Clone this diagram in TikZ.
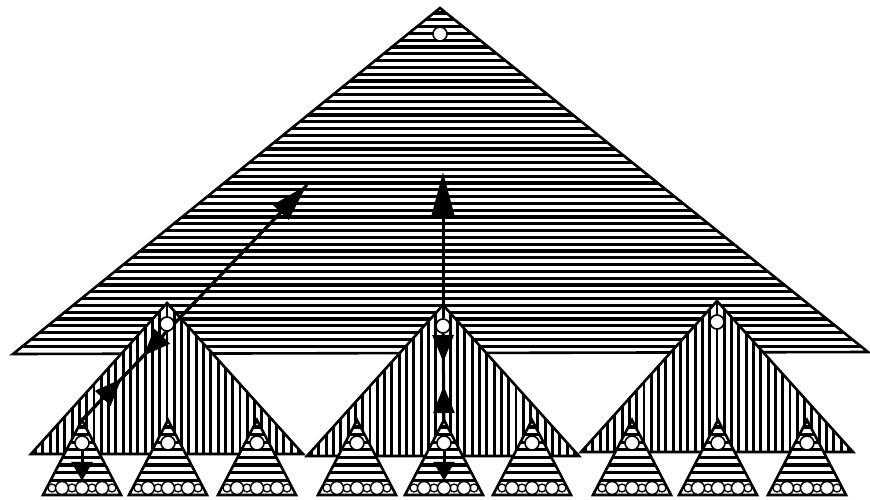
\documentclass[tikz,border=0pt]{standalone}
\usepackage{tikz}
\usetikzlibrary{arrows.meta,decorations.markings}

\begin{document}
\begin{tikzpicture}[x=1pt, y=-1pt,
    outline/.style={line width=2.6pt, line join=miter},
    hhatch/.style={line width=3.2pt},
    vhatch/.style={line width=2.9pt},
    dot/.style={circle, draw, fill=white, line width=1.6pt, minimum size=14pt, inner sep=0pt},
    leaf/.style={circle, draw, fill=white, line width=1.5pt, minimum size=13pt, inner sep=0pt},
    twig/.style={circle, draw, fill=white, line width=1.3pt, minimum size=8pt, inner sep=0pt},
    link/.style={line width=3pt},
    meet/.style 2 args={postaction={decorate}, decoration={markings,
        mark=at position #1 with {\arrow{Triangle[length=27pt,width=21pt]}},
        mark=at position #2 with {\arrowreversed{Triangle[length=27pt,width=21pt]}}}},
]
\useasboundingbox (0,0) rectangle (870,499);

% Top tree
\begin{scope}
\clip (440,8) -- (868,352) -- (13,354) -- cycle;
\foreach \y in {13,19.8,...,352} \draw[hhatch] (0,\y) -- (870,\y);
\end{scope}
\draw[outline] (440,8) -- (868,352) -- (13,354) -- cycle;
\node[dot] (root) at (440,34) {};

% Middle trees
\foreach \cx/\ty in {167/303, 443/305, 717/301} {
  \begin{scope}
  \clip (\cx,\ty) -- (\cx+136,\ty+151) -- (\cx-136,\ty+151) -- cycle;
  \fill[white] (\cx-140,\ty) rectangle (\cx+140,\ty+152);
  \foreach \k in {-19,...,19} \draw[vhatch] (\cx+\k*7.3,\ty) -- (\cx+\k*7.3,\ty+152);
  \end{scope}
  \draw[outline] (\cx,\ty) -- (\cx+136,\ty+151) -- (\cx-136,\ty+151) -- cycle;
}

% Bottom trees
\foreach \cx [count=\i] in {82,168,257,357,444,532,632,718,807} {
  \begin{scope}
  \clip (\cx,420) -- (\cx+39,495) -- (\cx-39,495) -- cycle;
  \fill[white] (\cx-40,419) rectangle (\cx+40,496);
  \foreach \y in {427,434.6,...,482} \draw[hhatch] (\cx-40,\y) -- (\cx+40,\y);
  \end{scope}
  \draw[outline] (\cx,420) -- (\cx+39,495) -- (\cx-39,495) -- cycle;
  \coordinate (t\i) at (\cx,420);
  \node[dot] (s\i) at (\cx,443) {};
  \foreach \dx in {-30,-10,10,30} \node[twig] at (\cx+\dx,488) {};
  \node[leaf] (b\i) at (\cx,488) {};
  \node[leaf] at (\cx-20,488) {};
  \node[leaf] at (\cx+20,488) {};
}

% Search path on the left
\coordinate (dtip) at (307,185);
\draw[link, -{Triangle[length=38pt,width=21pt]}] (t1) -- (dtip);
\draw[link, meet={57pt}{89pt}] (t1) -- (dtip);

% Roots of the middle trees
\foreach \cx/\ty [count=\i] in {167/303, 443/305, 717/301}
  \node[dot] (m\i) at (\cx,\ty+21) {};

% Search path in the middle
\coordinate (vtip) at (443,172);
\draw[link, -{Triangle[length=45pt,width=23pt]}] (m2) -- (vtip);
\draw[link, meet={34pt}{58pt}] (t5) -- (m2);
\draw[link, -{Triangle[length=19pt,width=21pt]}] (s1) -- (b1);
\draw[link, -{Triangle[length=19pt,width=21pt]}] (s5) -- (b5);
\end{tikzpicture}
\end{document}
